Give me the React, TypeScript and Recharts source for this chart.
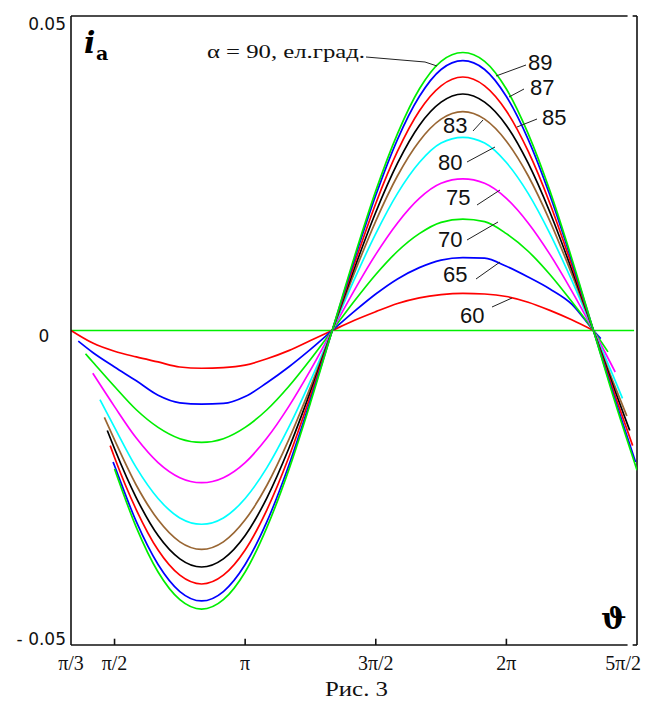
import React from 'react';
import { LineChart, Line, XAxis, YAxis, ReferenceLine } from 'recharts';

// ---------- data (θ in degrees, i_a values) ----------
const xTicks = [60, 90, 180, 270, 360, 450];
const xTickLabels = ['π/3', 'π/2', 'π', '3π/2', '2π', '5π/2'];
const yTicks = [-0.05, 0, 0.05];
const yTickLabels = ['- 0.05', '0', '0.05'];

const alphaNames = ['60', '65', '70', '75', '80', '83', '85', '87', '89', '90'];

const a60: number[][] = [[60, 0], [75, -0.002], [90, -0.0033], [105, -0.0042], [120, -0.005], [135, -0.0058], [150, -0.006], [165, -0.0059], [180, -0.0055], [195, -0.0045], [210, -0.0032], [225, -0.0016], [240, 0], [255, 0.0016], [270, 0.003], [285, 0.0043], [300, 0.0052], [315, 0.0057], [330, 0.0059], [345, 0.0058], [360, 0.0054], [375, 0.0045], [390, 0.0032], [405, 0.0017], [420, 0]];
const a65: number[][] = [[65, -0.0017], [75, -0.0035], [90, -0.0058], [105, -0.008], [120, -0.0103], [135, -0.0115], [150, -0.0117], [165, -0.0116], [180, -0.0105], [195, -0.0083], [210, -0.0058], [225, -0.003], [240, 0], [255, 0.003], [270, 0.0058], [285, 0.0082], [300, 0.01], [315, 0.0112], [330, 0.0116], [345, 0.0115], [360, 0.0102], [375, 0.0085], [390, 0.0066], [405, 0.0042], [420, 0], [425, -0.0013]];
const a70: number[][] = [[70, -0.0037], [75, -0.005], [90, -0.0089], [105, -0.0126], [120, -0.0154], [135, -0.0172], [150, -0.0178], [165, -0.0172], [180, -0.0154], [195, -0.0126], [210, -0.0089], [225, -0.0046], [240, 0], [255, 0.0046], [270, 0.0089], [285, 0.0126], [300, 0.0154], [315, 0.0172], [330, 0.0177], [345, 0.0173], [360, 0.0154], [375, 0.0126], [390, 0.0089], [405, 0.0046], [420, 0], [430, -0.0034]];
const a75: number[][] = [[75, -0.0068], [90, -0.0121], [105, -0.0171], [120, -0.021], [135, -0.0234], [150, -0.0242], [165, -0.0234], [180, -0.021], [195, -0.0171], [210, -0.0121], [225, -0.0063], [240, 0], [255, 0.0063], [270, 0.0121], [285, 0.0171], [300, 0.021], [315, 0.0234], [330, 0.0241], [345, 0.0234], [360, 0.021], [375, 0.0171], [390, 0.0121], [405, 0.0063], [420, 0], [435, -0.0066]];
const a80: number[][] = [[80, -0.011], [90, -0.0154], [105, -0.0218], [120, -0.0267], [135, -0.0298], [150, -0.0308], [165, -0.0298], [180, -0.0267], [195, -0.0218], [210, -0.0154], [225, -0.008], [240, 0], [255, 0.008], [270, 0.0154], [285, 0.0218], [300, 0.0267], [315, 0.0298], [330, 0.0307], [345, 0.0298], [360, 0.0267], [375, 0.0218], [390, 0.0154], [405, 0.008], [420, 0], [435, -0.008], [440, -0.0108]];
const a83: number[][] = [[83, -0.0138], [90, -0.0174], [105, -0.0246], [120, -0.0301], [135, -0.0336], [150, -0.0348], [165, -0.0336], [180, -0.0301], [195, -0.0246], [210, -0.0174], [225, -0.009], [240, 0], [255, 0.009], [270, 0.0174], [285, 0.0246], [300, 0.0301], [315, 0.0336], [330, 0.0348], [345, 0.0336], [360, 0.0301], [375, 0.0246], [390, 0.0174], [405, 0.009], [420, 0], [435, -0.009], [443, -0.0136]];
const a85: number[][] = [[85, -0.0159], [90, -0.0188], [105, -0.0266], [120, -0.0326], [135, -0.0363], [150, -0.0376], [165, -0.0363], [180, -0.0326], [195, -0.0266], [210, -0.0188], [225, -0.0097], [240, 0], [255, 0.0097], [270, 0.0188], [285, 0.0266], [300, 0.0326], [315, 0.0363], [330, 0.0376], [345, 0.0363], [360, 0.0326], [375, 0.0266], [390, 0.0188], [405, 0.0097], [420, 0], [435, -0.0097], [445, -0.0159]];
const a87: number[][] = [[87, -0.0183], [90, -0.0202], [105, -0.0285], [120, -0.0349], [135, -0.0389], [150, -0.0403], [165, -0.0389], [180, -0.0349], [195, -0.0285], [210, -0.0202], [225, -0.0104], [240, 0], [255, 0.0104], [270, 0.0202], [285, 0.0285], [300, 0.0349], [315, 0.0389], [330, 0.0403], [345, 0.0389], [360, 0.0349], [375, 0.0285], [390, 0.0202], [405, 0.0104], [420, 0], [435, -0.0104], [447, -0.0183]];
const a89: number[][] = [[89, -0.0209], [90, -0.0215], [105, -0.0304], [120, -0.0372], [135, -0.0415], [150, -0.043], [165, -0.0415], [180, -0.0372], [195, -0.0304], [210, -0.0215], [225, -0.0111], [240, 0], [255, 0.0111], [270, 0.0215], [285, 0.0304], [300, 0.0372], [315, 0.0415], [330, 0.0429], [345, 0.0415], [360, 0.0372], [375, 0.0304], [390, 0.0215], [405, 0.0111], [420, 0], [435, -0.0111], [449, -0.0209]];
const a90: number[][] = [[90, -0.022], [105, -0.0313], [120, -0.0384], [135, -0.0428], [150, -0.0443], [165, -0.0428], [180, -0.0384], [195, -0.0313], [210, -0.0222], [225, -0.0115], [240, 0], [255, 0.0115], [270, 0.0222], [285, 0.0313], [300, 0.0384], [315, 0.0428], [330, 0.0442], [345, 0.0428], [360, 0.0384], [375, 0.0313], [390, 0.0222], [405, 0.0115], [420, 0], [435, -0.0115], [450, -0.0222]];

const seriesValues = [a60, a65, a70, a75, a80, a83, a85, a87, a89, a90];

// ---------- styles ----------
const colors = ['#ff0000', '#0000ff', '#00ee00', '#ff00ff', '#00ffff', '#996633', '#000000', '#ff0000', '#0000ff', '#00ee00'];

const W = 651;
const H = 700;
const MARGIN = { top: 16, right: 14, bottom: 25, left: 11 };
const PLOT_BOTTOM = H - MARGIN.bottom - 30;

// label annotation layout (pixel positions of the number labels and their leader lines)
const labelLayout: Record<string, { x: number; y: number; l: number[] }> = {
  '89': { x: 528, y: 70, l: [526, 65, 496, 76] },
  '87': { x: 530, y: 95, l: [524, 89, 509, 97] },
  '85': { x: 542, y: 125, l: [537, 119, 517, 127] },
  '83': { x: 443, y: 133, l: [473, 131, 483, 120] },
  '80': { x: 438, y: 170, l: [467, 162, 495, 147] },
  '75': { x: 446, y: 205, l: [477, 205, 500, 190] },
  '70': { x: 438, y: 247, l: [467, 240, 498, 222] },
  '65': { x: 443, y: 282, l: [476, 279, 500, 262] },
  '60': { x: 460, y: 323, l: [492, 307, 512, 298] },
};

const serif = '"Liberation Serif", "Times New Roman", serif';
const sans = '"DejaVu Sans", "Liberation Sans", sans-serif';

const XTick = (props: any) => {
  const { x, index } = props;
  const label = xTickLabels[index];
  const last = index === xTickLabels.length - 1;
  return (
    <text
      x={last ? x + 4 : x}
      y={PLOT_BOTTOM + 25}
      textAnchor={last ? 'end' : 'middle'}
      fontFamily={serif}
      fontSize={20}
      fill="#111"
    >
      {label}
    </text>
  );
};

const YTick = (props: any) => {
  const { y, payload } = props;
  const idx = yTicks.indexOf(payload.value);
  const label = yTickLabels[idx];
  if (payload.value === 0) {
    return (
      <text x={44} y={y + 11} textAnchor="middle" fontFamily={sans} fontSize={17} fill="#111">
        {label}
      </text>
    );
  }
  const dy = payload.value > 0 ? 14 : 0;
  return (
    <text x={66} y={y + dy} textAnchor="end" fontFamily={sans} fontSize={17} fill="#111">
      {label}
    </text>
  );
};

const frame = '#111';

export default function App() {
  const series = seriesValues.map((vals, i) => ({
    name: alphaNames[i],
    color: colors[i],
    data: vals.map(([t, v]) => ({ t, v })),
  }));

  return (
    <div style={{ position: 'absolute', left: 0, top: 0, width: W, height: H }}>
      <LineChart width={W} height={H} margin={MARGIN}>
        <XAxis
          type="number"
          dataKey="t"
          domain={[60, 450]}
          ticks={xTicks}
          allowDataOverflow
          axisLine={false}
          tickLine={false}
          height={30}
          tick={<XTick />}
          interval={0}
        />
        <YAxis
          type="number"
          domain={[-0.05, 0.05]}
          ticks={yTicks}
          allowDataOverflow
          axisLine={{ stroke: frame, strokeWidth: 1.6 }}
          tickLine={false}
          width={60}
          tick={<YTick />}
          interval={0}
        />
        {/* frame */}
        <ReferenceLine segment={[{ x: 60, y: 0.05 }, { x: 443.5, y: 0.05 }]} stroke={frame} strokeWidth={1.6} ifOverflow="visible" />
        <ReferenceLine segment={[{ x: 447, y: 0.05 }, { x: 450, y: 0.05 }]} stroke={frame} strokeWidth={1.6} ifOverflow="visible" />
        <ReferenceLine segment={[{ x: 60, y: -0.05 }, { x: 443.5, y: -0.05 }]} stroke={frame} strokeWidth={1.6} ifOverflow="visible" />
        <ReferenceLine segment={[{ x: 447, y: -0.05 }, { x: 450, y: -0.05 }]} stroke={frame} strokeWidth={1.6} ifOverflow="visible" />
        <ReferenceLine segment={[{ x: 450, y: 0.05 }, { x: 450, y: -0.05 }]} stroke={frame} strokeWidth={1.6} ifOverflow="visible" />
        {xTicks.slice(1, -1).map((t) => (
          <ReferenceLine key={'tk' + t} segment={[{ x: t, y: -0.05 }, { x: t, y: -0.049 }]} stroke={frame} strokeWidth={1.6} ifOverflow="visible" />
        ))}
        {/* zero line */}
        <ReferenceLine segment={[{ x: 60, y: 0 }, { x: 448, y: 0 }]} stroke="#00ee00" strokeWidth={1.6} ifOverflow="visible" />
        {series.map((s) => (
          <Line
            key={s.name}
            data={s.data}
            dataKey="v"
            name={s.name}
            type="monotone"
            stroke={s.color}
            strokeWidth={1.7}
            dot={false}
            isAnimationActive={false}
          />
        ))}
      </LineChart>
      <svg
        width={W}
        height={H}
        style={{ position: 'absolute', left: 0, top: 0, pointerEvents: 'none' }}
      >
        {/* i_a */}
        <text x={84} y={53} fontFamily='"DejaVu Serif", serif' fontWeight="bold" fontStyle="italic" fontSize={30} fill="#000">
          i
        </text>
        <text x={96} y={60} fontFamily='"DejaVu Serif", serif' fontWeight="bold" fontSize={19} fill="#000">
          a
        </text>
        {/* theta */}
        <text x={601} y={629} fontFamily='"DejaVu Serif", serif' fontWeight="bold" fontSize={30} fill="#000">
          ϑ
        </text>
        {/* alpha label */}
        <text x={207} y={58} fontFamily={serif} fontSize={19} fill="#111" textLength={158} lengthAdjust="spacingAndGlyphs">
          α = 90, ел.град.
        </text>
        <polyline points="366,57 425,62 437,66" fill="none" stroke="#222" strokeWidth={1} />
        {alphaNames.filter((n) => labelLayout[n]).map((n) => {
          const L = labelLayout[n];
          return (
            <g key={'lab' + n}>
              <text x={L.x} y={L.y} fontFamily='"Liberation Sans", Arial, sans-serif' fontSize={22} fill="#111">
                {n}
              </text>
              <line x1={L.l[0]} y1={L.l[1]} x2={L.l[2]} y2={L.l[3]} stroke="#222" strokeWidth={1} />
            </g>
          );
        })}
        {/* caption */}
        <text x={325} y={696} fontFamily={serif} fontSize={21} fill="#111" textLength={63} lengthAdjust="spacingAndGlyphs">
          Рис. 3
        </text>
      </svg>
    </div>
  );
}
